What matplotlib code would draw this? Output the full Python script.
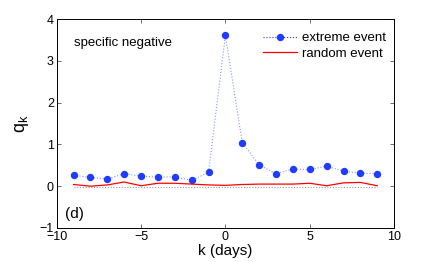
import numpy as np
from matplotlib import pyplot as plt

plt.rcParams['font.family'] = ['Liberation Sans', 'DejaVu Sans']

k = np.arange(-9, 10)
extreme = [0.26, 0.21, 0.17, 0.30, 0.24, 0.22, 0.22, 0.14, 0.33, 3.61,
           1.04, 0.51, 0.30, 0.41, 0.40, 0.48, 0.36, 0.31, 0.30]
random_ev = [0.04, 0.00, 0.03, 0.10, 0.01, 0.07, 0.07, 0.05, 0.03, 0.02,
             0.04, 0.05, 0.05, 0.05, 0.07, 0.01, 0.08, 0.09, 0.01]
baseline = np.full(len(k), -0.01)

fig = plt.figure(figsize=(4.36, 2.62), dpi=100)
ax = fig.add_axes([0.130, 0.130, 0.774, 0.797])

ax.plot(k, baseline, color='#999999', linestyle=(0, (1, 1.5)), linewidth=0.8)
ax.plot(k, extreme, color='#1f3cff', linestyle=':', linewidth=0.8, alpha=0.55)
ax.plot(k, extreme, color='#1f3cff', linestyle='none', marker='o', markersize=4.3)
ax.plot(k, random_ev, color='red', linewidth=0.9)

# legend entry with dotted line + marker
h1, = ax.plot([], [], color='#1f3cff', linestyle=':', marker='o', markersize=4.3, linewidth=0.8)
h2, = ax.plot([], [], color='red', linewidth=0.9)
ax.legend([h1, h2], ['extreme event', 'random event'], loc='upper right',
          bbox_to_anchor=(1.0, 0.975), frameon=False,
          fontsize=9.5, handlelength=2.6, borderaxespad=0.2, labelspacing=0.25, handletextpad=0.4)

ax.set_xlim(-10, 10)
ax.set_ylim(-1, 4)
ax.set_xticks([-10, -5, 0, 5, 10])
ax.set_yticks([-1, 0, 1, 2, 3, 4])
ax.set_xticklabels(['\u221210', '\u22125', '0', '5', '10'])
ax.set_yticklabels(['\u22121', '0', '1', '2', '3', '4'])
ax.tick_params(direction='in', top=True, right=True, labelsize=9, length=3, width=0.6,
               colors='#555555', labelcolor='black', pad=2)
for s in ax.spines.values():
    s.set_linewidth(0.7)

ax.set_xlabel('k (days)', fontsize=11, labelpad=1)
ax.set_ylabel('q$_\\mathregular{k}$', fontsize=13, labelpad=6)

ax.text(0.05, 0.885, 'specific negative', transform=ax.transAxes, fontsize=9.5, va='center')
ax.text(0.025, 0.065, '(d)', transform=ax.transAxes, fontsize=11, va='center')

fig.savefig('out.png', dpi=100)
